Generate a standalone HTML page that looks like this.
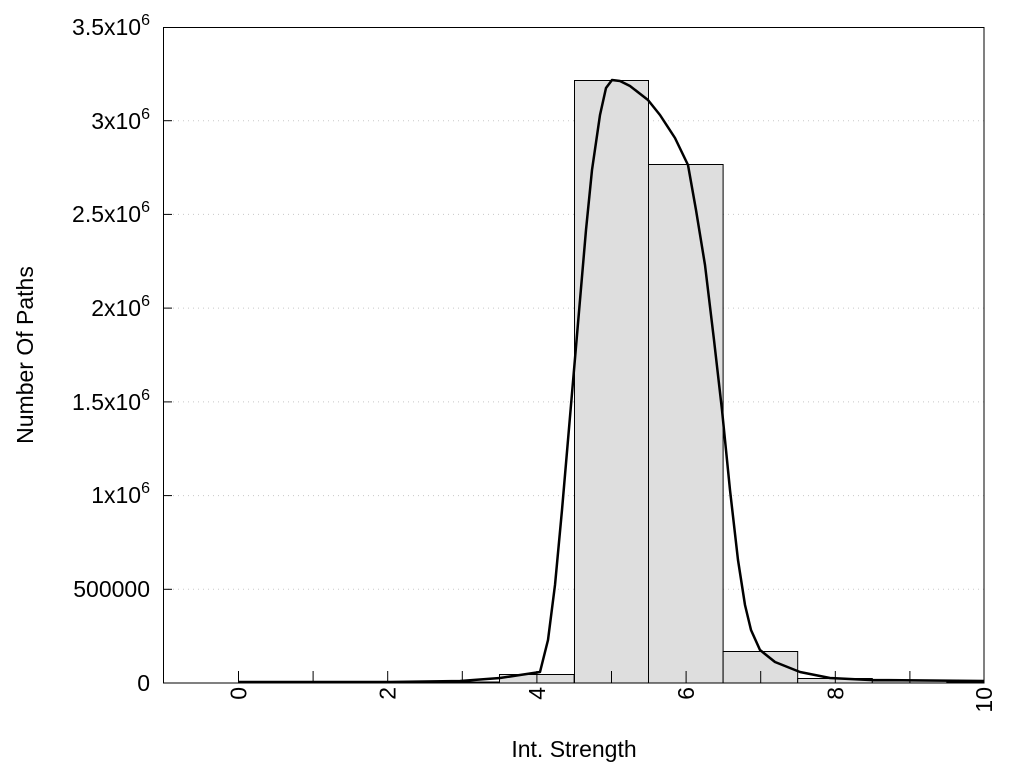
<!DOCTYPE html>
<html><head><meta charset="utf-8"><style>
body{margin:0;background:#fff;}
svg text{font-family:"Liberation Sans",Arial,sans-serif;fill:#000;}
</style></head><body>
<svg width="1024" height="768" viewBox="0 0 1024 768" xmlns="http://www.w3.org/2000/svg">
<g stroke="#c8c8c8" stroke-width="1" stroke-dasharray="1,4">
<line x1="163" y1="589.3" x2="984" y2="589.3"/>
<line x1="163" y1="495.6" x2="984" y2="495.6"/>
<line x1="163" y1="401.9" x2="984" y2="401.9"/>
<line x1="163" y1="308.1" x2="984" y2="308.1"/>
<line x1="163" y1="214.4" x2="984" y2="214.4"/>
<line x1="163" y1="120.7" x2="984" y2="120.7"/>
</g>
<g fill="#dedede" stroke="#000" stroke-width="1">
<rect x="238.5" y="682" width="74.6" height="1"/>
<rect x="313.1" y="682" width="74.6" height="1"/>
<rect x="387.7" y="682" width="74.6" height="1"/>
<rect x="462.3" y="682" width="37" height="1"/>
<rect x="499.5" y="674.5" width="74.6" height="8.5"/>
<rect x="574.5" y="80.5" width="74" height="602.5"/>
<rect x="648.5" y="164.5" width="74.6" height="518.5"/>
<rect x="723.1" y="651.5" width="74.6" height="31.5"/>
<rect x="797.7" y="678.5" width="74.6" height="4.5"/>
<rect x="872.3" y="681" width="74.6" height="2"/>
<rect x="946.9" y="682" width="37" height="1"/>
</g>
<rect x="163.5" y="27.5" width="820.5" height="655.5" fill="none" stroke="#000" stroke-width="1"/>
<g stroke="#000" stroke-width="1">
<line x1="163" y1="589.3" x2="172" y2="589.3"/><line x1="163" y1="495.6" x2="172" y2="495.6"/>
<line x1="163" y1="401.9" x2="172" y2="401.9"/><line x1="163" y1="308.1" x2="172" y2="308.1"/>
<line x1="163" y1="214.4" x2="172" y2="214.4"/><line x1="163" y1="120.7" x2="172" y2="120.7"/>
<line x1="238.5" y1="683" x2="238.5" y2="671"/><line x1="313.1" y1="683" x2="313.1" y2="671"/>
<line x1="387.7" y1="683" x2="387.7" y2="671"/><line x1="462.3" y1="683" x2="462.3" y2="671"/>
<line x1="536.9" y1="683" x2="536.9" y2="671"/><line x1="611.5" y1="683" x2="611.5" y2="671"/>
<line x1="686.1" y1="683" x2="686.1" y2="671"/><line x1="760.7" y1="683" x2="760.7" y2="671"/>
<line x1="835.3" y1="683" x2="835.3" y2="671"/><line x1="909.9" y1="683" x2="909.9" y2="671"/>
</g>
<polyline fill="none" stroke="#000" stroke-width="2.5" stroke-linejoin="round" points="238,682 390,682 460,681 500,678 520,675 540,672 548,640 555,585 562,510 568,440 574,370 580,300 586,230 592,170 600,115 606,88 612,80 620,81 630,86 648,100 660,115 675,138 688,165 696,210 705,265 714,340 722,410 730,490 738,560 745,605 751,630 760,650 775,662 800,672 830,678 870,680 984,681"/>
<g font-size="23" text-anchor="end">
<text x="150" y="691">0</text>
<text x="150" y="597">500000</text>
<text x="150" y="503">1x10<tspan dy="-10" font-size="16">6</tspan></text>
<text x="150" y="410">1.5x10<tspan dy="-10" font-size="16">6</tspan></text>
<text x="150" y="316">2x10<tspan dy="-10" font-size="16">6</tspan></text>
<text x="150" y="222">2.5x10<tspan dy="-10" font-size="16">6</tspan></text>
<text x="150" y="129">3x10<tspan dy="-10" font-size="16">6</tspan></text>
<text x="150" y="35">3.5x10<tspan dy="-10" font-size="16">6</tspan></text>
</g>
<g font-size="23" text-anchor="end">
<text transform="translate(246.5,687) rotate(-90)">0</text>
<text transform="translate(395.7,687) rotate(-90)">2</text>
<text transform="translate(544.9,687) rotate(-90)">4</text>
<text transform="translate(694.1,687) rotate(-90)">6</text>
<text transform="translate(843.3,687) rotate(-90)">8</text>
<text transform="translate(992,687) rotate(-90)">10</text>
</g>
<text x="574" y="757" font-size="23" text-anchor="middle">Int. Strength</text>
<text transform="translate(33,355) rotate(-90)" font-size="23" text-anchor="middle">Number Of Paths</text>
</svg>
</body></html>
